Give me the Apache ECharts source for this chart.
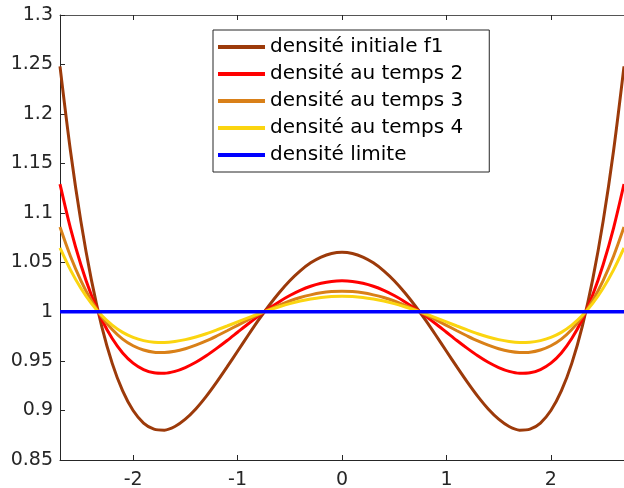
<!DOCTYPE html>
<html>
<head>
<meta charset="utf-8">
<script src="https://cdn.jsdelivr.net/npm/echarts@6/dist/echarts.min.js"></script>
<style>html,body{margin:0;padding:0;background:#fff}#c{width:624px;height:488px}</style>
</head>
<body>
<div id="c"></div>
<script>
var xs = [-2.7,-2.6,-2.5,-2.4,-2.3,-2.2,-2.1,-2.0,-1.9,-1.8,-1.7,-1.6,-1.5,-1.4,-1.3,-1.2,-1.1,-1.0,-0.9,-0.8,-0.7,-0.6,-0.5,-0.4,-0.3,-0.2,-0.1,
  0,0.1,0.2,0.3,0.4,0.5,0.6,0.7,0.8,0.9,1.0,1.1,1.2,1.3,1.4,1.5,1.6,1.7,1.8,1.9,2.0,2.1,2.2,2.3,2.4,2.5,2.6,2.7];

var densInitiale = [1.2481,1.1628,1.0913,1.0324,0.9849,0.9477,0.9198,0.9000,0.8874,0.8812,0.8802,0.8839,0.8913,0.9016,0.9143,0.9287,0.9441,0.9600,0.9759,0.9914,1.0060,1.0194,1.0313,1.0413,1.0494,1.0552,1.0588,
  1.0600,
  1.0588,1.0552,1.0494,1.0413,1.0313,1.0194,1.0060,0.9914,0.9759,0.9600,0.9441,0.9287,0.9143,0.9016,0.8913,0.8839,0.8802,0.8812,0.8874,0.9000,0.9198,0.9477,0.9849,1.0324,1.0913,1.1628,1.2481];

var densTemps2 = [1.1290,1.0846,1.0475,1.0168,0.9921,0.9728,0.9583,0.9480,0.9415,0.9382,0.9377,0.9396,0.9435,0.9488,0.9554,0.9629,0.9709,0.9792,0.9875,0.9955,1.0031,1.0101,1.0163,1.0215,1.0257,1.0287,1.0306,
  1.0312,
  1.0306,1.0287,1.0257,1.0215,1.0163,1.0101,1.0031,0.9955,0.9875,0.9792,0.9709,0.9629,0.9554,0.9488,0.9435,0.9396,0.9377,0.9382,0.9415,0.9480,0.9583,0.9728,0.9921,1.0168,1.0475,1.0846,1.1290];

var densTemps3 = [1.0856,1.0561,1.0315,1.0112,0.9948,0.9820,0.9723,0.9655,0.9612,0.9590,0.9587,0.9599,0.9625,0.9661,0.9704,0.9754,0.9807,0.9862,0.9917,0.9970,1.0021,1.0067,1.0108,1.0143,1.0170,1.0191,1.0203,
  1.0207,
  1.0203,1.0191,1.0170,1.0143,1.0108,1.0067,1.0021,0.9970,0.9917,0.9862,0.9807,0.9754,0.9704,0.9661,0.9625,0.9599,0.9587,0.9590,0.9612,0.9655,0.9723,0.9820,0.9948,1.0112,1.0315,1.0561,1.0856];

var densTemps4 = [1.0645,1.0423,1.0237,1.0084,0.9961,0.9864,0.9791,0.9740,0.9707,0.9691,0.9689,0.9698,0.9717,0.9744,0.9777,0.9815,0.9855,0.9896,0.9937,0.9978,1.0016,1.0050,1.0081,1.0107,1.0128,1.0144,1.0153,
  1.0156,
  1.0153,1.0144,1.0128,1.0107,1.0081,1.0050,1.0016,0.9978,0.9937,0.9896,0.9855,0.9815,0.9777,0.9744,0.9717,0.9698,0.9689,0.9691,0.9707,0.9740,0.9791,0.9864,0.9961,1.0084,1.0237,1.0423,1.0645];

var densLimite = [1,1];
var limiteXs = [-2.7, 2.7];

var xTicks = [-2, -1, 0, 1, 2];
var seriesNames = ['densité initiale f1','densité au temps 2','densité au temps 3','densité au temps 4','densité limite'];
var seriesColors = ['#9C3A0A','#FF0000','#D98018','#FBD510','#0000FF'];

function pairs(x, y){ return x.map(function(v,i){ return [v, y[i]]; }); }

var txt = '#262626';
var font = 'DejaVu Sans';
var chart = echarts.init(document.getElementById('c'), null, {renderer:'canvas'});
var curves = [densInitiale, densTemps2, densTemps3, densTemps4];
var series = curves.map(function(d, i){
  return {name: seriesNames[i], type:'line', data: pairs(xs, d), showSymbol:false, smooth:0.3,
    lineStyle:{width:3, color: seriesColors[i]}, itemStyle:{color: seriesColors[i]}, z: 2+i};
});
series.push({name: seriesNames[4], type:'line', data: pairs(limiteXs, densLimite), showSymbol:false,
  lineStyle:{width:3.5, color: seriesColors[4]}, itemStyle:{color: seriesColors[4]}, z: 10});

chart.setOption({
  animation:false,
  backgroundColor:'#fff',
  grid:{left:60, right:0, top:15, bottom:28, outerBoundsMode:'none', containLabel:false},
  legend:{
    data: seriesNames, orient:'vertical', left:213, top:30,
    padding:[7,26,7,5], itemGap:7, itemWidth:47, itemHeight:4, itemTextGap:3,
    icon:'rect', borderColor:txt, borderWidth:1, backgroundColor:'#fff',
    textStyle:{fontFamily:font, fontSize:20, color:'#000', lineHeight:20}
  },
  xAxis:[{
    type:'value', min:-2.7, max:2.7, position:'bottom',
    axisLine:{show:true, onZero:false, lineStyle:{color:txt, width:1}},
    axisTick:{show:true, inside:true, length:5, customValues:xTicks, lineStyle:{color:txt}},
    axisLabel:{customValues:xTicks, margin:11, fontFamily:font, fontSize:19, color:txt},
    splitLine:{show:false}
  },{
    type:'value', min:-2.7, max:2.7, position:'top',
    axisLine:{show:true, onZero:false, lineStyle:{color:'#555', width:1}},
    axisTick:{show:true, inside:true, length:5, customValues:xTicks, lineStyle:{color:txt}},
    axisLabel:{show:false}, splitLine:{show:false}
  }],
  yAxis:{
    type:'value', min:0.85, max:1.3, interval:0.05,
    axisLine:{show:true, onZero:false, lineStyle:{color:txt, width:1}},
    axisTick:{show:true, inside:true, length:5, lineStyle:{color:txt}},
    axisLabel:{margin:7, fontFamily:font, fontSize:19, color:txt,
      formatter:function(v){ return String(Number(v.toFixed(2))); }},
    splitLine:{show:false}
  },
  series: series
});
</script>
</body>
</html>
